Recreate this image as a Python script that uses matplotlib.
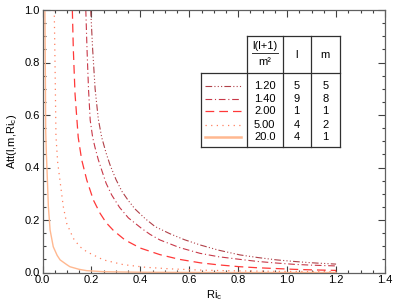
import numpy as np
import matplotlib
matplotlib.use("Agg")
from matplotlib import pyplot as plt
from matplotlib.lines import Line2D
from matplotlib.ticker import MultipleLocator

plt.rcParams['font.family'] = ['Liberation Sans', 'DejaVu Sans']
plt.rcParams['mathtext.fontset'] = 'custom'
plt.rcParams['mathtext.rm'] = 'Liberation Sans'
plt.rcParams['mathtext.it'] = 'Liberation Sans'

# curves: (Ri_c, Att)
ri_120 = [0.197, 0.205, 0.215, 0.228, 0.242, 0.26, 0.276, 0.30, 0.324, 0.35, 0.378, 0.42,
          0.46, 0.52, 0.58, 0.644, 0.72, 0.807, 0.88, 0.957, 1.03, 1.1, 1.2]
att_120 = [1.0, 0.85, 0.70, 0.585, 0.515, 0.455, 0.41, 0.355, 0.31, 0.275, 0.242, 0.205,
           0.175, 0.148, 0.125, 0.105, 0.085, 0.067, 0.057, 0.048, 0.042, 0.037, 0.032]

ri_140 = [0.177, 0.182, 0.188, 0.195, 0.205, 0.215, 0.228, 0.242, 0.26, 0.283, 0.315, 0.351,
          0.405, 0.44, 0.48, 0.56, 0.644, 0.72, 0.807, 0.88, 0.957, 1.03, 1.1, 1.2]
att_140 = [1.0, 0.85, 0.70, 0.58, 0.515, 0.475, 0.43, 0.39, 0.34, 0.295, 0.248, 0.208,
           0.168, 0.145, 0.124, 0.095, 0.073, 0.06, 0.05, 0.042, 0.036, 0.031, 0.028, 0.025]

ri_200 = [0.122, 0.126, 0.133, 0.146, 0.16, 0.181, 0.208, 0.235, 0.26, 0.29, 0.337, 0.40,
          0.48, 0.56, 0.644, 0.72, 0.807, 0.88, 0.957, 1.03, 1.1, 1.2]
att_200 = [1.0, 0.85, 0.68, 0.515, 0.43, 0.352, 0.276, 0.226, 0.19, 0.16, 0.124, 0.093,
           0.068, 0.05, 0.037, 0.029, 0.022, 0.018, 0.015, 0.012, 0.010, 0.008]

ri_500 = [0.048, 0.051, 0.055, 0.062, 0.072, 0.085, 0.099, 0.126, 0.153, 0.181, 0.249, 0.33,
          0.42, 0.52, 0.65, 0.8, 1.0, 1.2]
att_500 = [1.0, 0.81, 0.52, 0.42, 0.346, 0.251, 0.187, 0.13, 0.098, 0.079, 0.048, 0.03,
           0.02, 0.014, 0.009, 0.006, 0.004, 0.003]

ri_2000 = [0.010, 0.012, 0.013, 0.016, 0.02, 0.024, 0.031, 0.044, 0.06, 0.072, 0.099, 0.112,
           0.15, 0.181, 0.25, 0.4, 0.7, 1.2]
att_2000 = [1.0, 0.7, 0.54, 0.45, 0.352, 0.251, 0.162, 0.098, 0.065, 0.048, 0.03, 0.022,
            0.012, 0.007, 0.003, 0.001, 0.0, 0.0]

ratios = ["1.20", "1.40", "2.00", "5.00", "20.0"]
l_vals = ["5", "9", "1", "4", "4"]
m_vals = ["5", "8", "1", "2", "1"]

colors = ['#b04048', '#c83848', '#ff3838', '#ff8060', '#ffb890']
styles = [(0, (6, 2, 1, 2, 1, 2, 1, 2)), (0, (6, 2.5, 1, 2.5)), (0, (7, 4)),
          (0, (1, 3.5)), '-']
widths = [0.8, 0.8, 0.9, 0.9, 1.0]
series = [(ri_120, att_120), (ri_140, att_140), (ri_200, att_200),
          (ri_500, att_500), (ri_2000, att_2000)]

W, H = 398, 301
fig = plt.figure(figsize=(W / 100, H / 100), dpi=100)
ax = fig.add_axes([42.5 / W, 1 - 272.5 / H, (385 - 42.5) / W, (272.5 - 10) / H])

for (x, y), c, ls, lw in zip(series, colors, styles, widths):
    ax.plot(x, y, color=c, linestyle=ls, linewidth=lw)

ax.set_xlim(0, 1.4)
ax.set_ylim(0, 1.0)
ax.xaxis.set_major_locator(MultipleLocator(0.2))
ax.xaxis.set_minor_locator(MultipleLocator(0.05))
ax.yaxis.set_major_locator(MultipleLocator(0.2))
ax.yaxis.set_minor_locator(MultipleLocator(0.05))
ax.xaxis.set_major_formatter(lambda v, p: "%.1f" % v)
ax.yaxis.set_major_formatter(lambda v, p: "%.1f" % v)
ax.tick_params(which='both', direction='in', top=True, right=True, labelsize=8,
               color='#404040', width=0.8)
ax.tick_params(which='major', length=5, pad=2)
ax.tick_params(which='minor', length=2.5)
for s in ax.spines.values():
    s.set_color('#606060')
    s.set_linewidth(0.9)
ax.set_xlabel(r"Ri$_{\rm c}$", fontsize=8, labelpad=2)
ax.set_ylabel(r"Att(l,m,Ri$_{\rm c}$)", fontsize=8, labelpad=4)


# table in pixel coordinates
def fx(px):
    return px / W


def fy(py):
    return 1 - py / H


def seg(x0, y0, x1, y1, lw=0.9, color='#303030', ls='-'):
    fig.add_artist(Line2D([fx(x0), fx(x1)], [fy(y0), fy(y1)], transform=fig.transFigure,
                          color=color, linewidth=lw, linestyle=ls))


# header box
seg(246.7, 36, 340, 36)
seg(246.7, 36, 246.7, 146.7)
seg(282.7, 36, 282.7, 146.7)
seg(310.7, 36, 310.7, 146.7)
seg(340, 36, 340, 146.7)
# body box
seg(200.7, 73.3, 340, 73.3)
seg(200.7, 73.3, 200.7, 146.7)
seg(200.7, 146.7, 340, 146.7)

fig.text(fx(264.7), fy(46), "l(l+1)", fontsize=8, ha='center', va='center')
seg(252, 53.3, 277.5, 53.3, lw=0.7)
fig.text(fx(264.7), fy(62), "m²", fontsize=8, ha='center', va='center')
fig.text(fx(296.7), fy(55), "l", fontsize=8, ha='center', va='center')
fig.text(fx(325.3), fy(55), "m", fontsize=8, ha='center', va='center')

row_y = [85.7, 98.5, 111.2, 124.5, 137.3]
for i in range(5):
    y = row_y[i]
    fig.add_artist(Line2D([fx(205), fx(241)], [fy(y), fy(y)], transform=fig.transFigure,
                          color=colors[i], linestyle=styles[i],
                          linewidth=widths[i] if i < 4 else 1.8))
    fig.text(fx(264.7), fy(y), ratios[i], fontsize=8, ha='center', va='center')
    fig.text(fx(296.7), fy(y), l_vals[i], fontsize=8, ha='center', va='center')
    fig.text(fx(325.3), fy(y), m_vals[i], fontsize=8, ha='center', va='center')

fig.savefig("out.png", dpi=100)
